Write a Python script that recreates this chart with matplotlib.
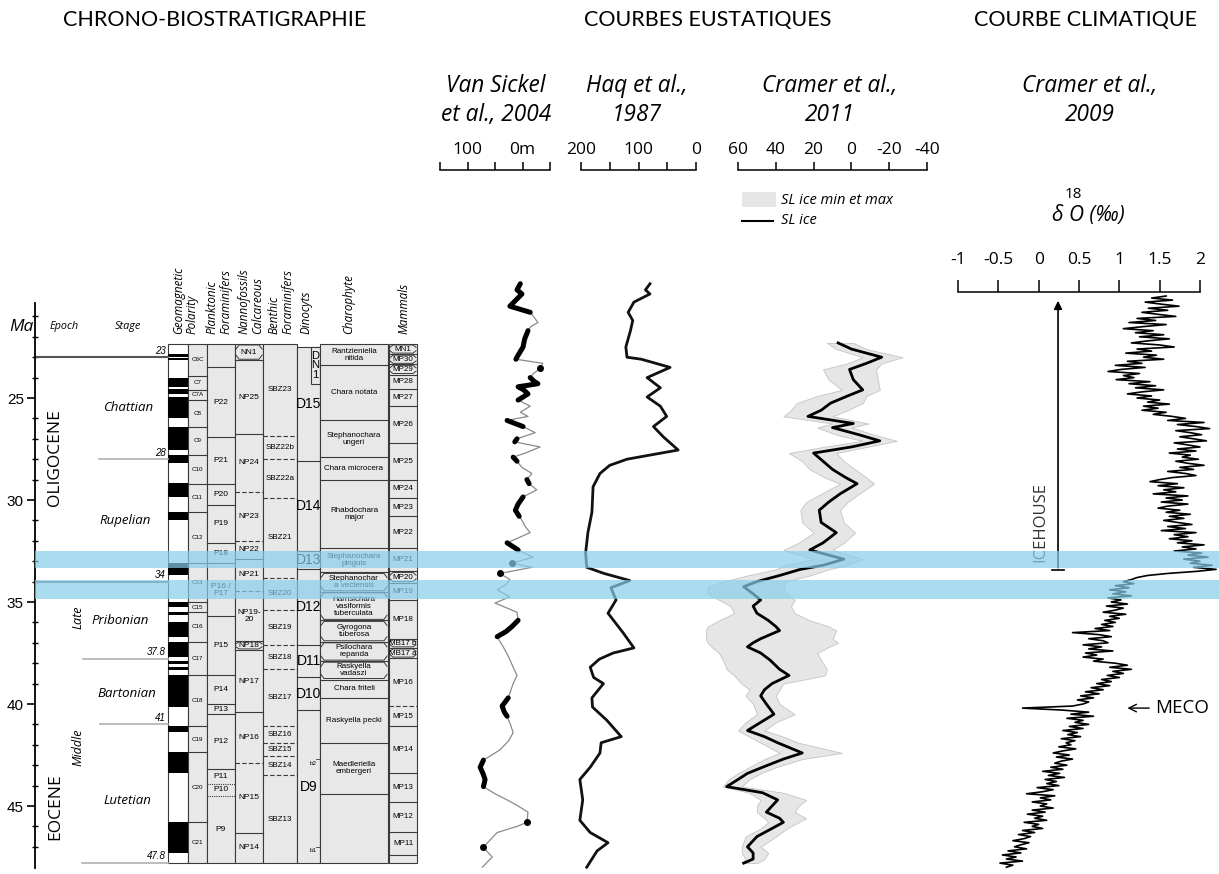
import numpy as np
import matplotlib
matplotlib.use("Agg")
import matplotlib.pyplot as plt
from matplotlib.patches import Rectangle
from matplotlib.lines import Line2D

# ---------------------------------------------------------------- data
bands = [(32.5, 33.35), (33.9, 34.85)]

# polarity: normal (black) intervals, Ma
normal_chrons = [(22.85, 23.0), (23.05, 23.12), (24.0, 24.45), (24.55, 24.8), (24.95, 26.0),
                 (26.4, 27.55), (27.8, 28.2), (29.15, 29.85), (30.6, 31.0), (33.1, 33.7),
                 (35.0, 35.25), (35.5, 35.65), (36.0, 36.7), (36.95, 37.7), (37.9, 38.05),
                 (38.2, 38.35), (38.6, 40.15), (41.1, 41.35), (42.35, 43.4), (45.8, 47.3)]
chron_bounds = [22.35, 23.9, 24.6, 25.1, 26.4, 27.8, 29.2, 30.6, 33.1, 35.0, 35.5, 36.95,
                38.6, 41.1, 42.35, 45.8, 47.8]
chron_names = ["C6C", "C7", "C7A", "C8", "C9", "C10", "C11", "C12", "C13", "C15", "C16",
               "C17", "C18", "C19", "C20", "C21"]

plank_bounds = [22.35, 23.5, 26.9, 29.2, 30.25, 32.1, 33.1, 35.7, 38.6, 40.0, 40.5, 43.2,
                43.9, 44.5, 47.8]
plank_names = ["", "P22", "P21", "P20", "P19", "P18", "P16 /\nP17", "P15", "P14", "P13",
               "P12", "P11", "P10", "P9"]
plank_dotted = {43.9, 44.5}

nanno_bounds = [22.35, 23.15, 26.76, 29.6, 32.0, 32.9, 34.45, 36.9, 37.35, 40.4, 42.9, 46.3, 47.8]
nanno_names = ["NN1", "NP25", "NP24", "NP23", "NP22", "NP21", "NP19-\n20", "NP18", "NP17",
               "NP16", "NP15", "NP14"]
nanno_dashed = {29.6, 32.0, 34.45, 42.9}
nanno_boxed = {"NN1", "NP18"}

benth_bounds = [22.35, 26.86, 28.0, 29.9, 33.8, 35.4, 37.1, 38.3, 41.1, 41.9, 42.55, 43.5, 47.8]
benth_names = ["SBZ23", "SBZ22b", "SBZ22a", "SBZ21", "SBZ20", "SBZ19", "SBZ18", "SBZ17",
               "SBZ16", "SBZ15", "SBZ14", "SBZ13"]

dino_bounds = [22.5, 28.1, 32.5, 33.4, 37.1, 38.7, 40.3, 47.8]
dino_names = ["D15", "D14", "D13", "D12", "D11", "D10", "D9"]

charo_bounds = [22.35, 23.4, 26.1, 27.9, 29.0, 32.35, 33.55, 34.5, 35.9, 36.95, 37.9, 38.8,
                39.7, 41.9, 44.4, 47.8]
charo_names = ["Rantzieniella\nnitida", "Chara notata", "Stephanochara\nungeri",
               "Chara microcera", "Rhabdochara\nmajor", "Stephanochara\npinguis",
               "Stephanochar\na vectensis", "Harrisichara\nvasiformis\ntuberculata",
               "Gyrogona\ntuberosa", "Psilochara\nrepanda", "Raskyella\nvadaszi",
               "Chara friteli", "Raskyella pecki", "Maedleriella\nembergeri", ""]
charo_boxed = {"Stephanochar\na vectensis", "Harrisichara\nvasiformis\ntuberculata",
               "Gyrogona\ntuberosa", "Psilochara\nrepanda", "Raskyella\nvadaszi"}

mamm_bounds = [22.35, 22.85, 23.35, 23.85, 24.55, 25.4, 27.2, 29.0, 29.9, 30.8, 32.35, 33.5,
               34.05, 34.9, 36.8, 37.25, 37.75, 40.1, 41.1, 43.4, 44.8, 46.25, 47.4, 47.8]
mamm_names = ["MN1", "MP30", "MP29", "MP28", "MP27", "MP26", "MP25", "MP24", "MP23", "MP22",
              "MP21", "MP20", "MP19", "MP18", "MB17 b", "MB17 a", "MP16", "MP15", "MP14",
              "MP13", "MP12", "MP11", ""]
mamm_dashed = {40.1}
mamm_boxed = {"MN1", "MP30", "MP29", "MP20", "MB17 b", "MB17 a"}

# Van Sickel et al., 2004 (m)
vs_age = [19.4, 19.7, 19.9, 20.2, 20.5, 20.8, 21.0, 21.3, 21.5, 21.7, 22.1, 22.5, 22.9, 23.1,
          23.3, 23.55, 23.8, 24.0, 24.2, 24.3, 24.45, 24.6, 24.8, 25.0, 25.1, 25.4, 25.7, 25.9,
          26.1, 26.4, 26.7, 27.0, 27.15, 27.4, 27.7, 27.9, 28.1, 28.4, 28.7, 29.0, 29.2, 29.5,
          29.85, 30.2, 30.5, 30.8, 31.0, 31.3, 31.6, 32.1, 32.45, 32.8, 33.1, 33.3, 33.6, 33.9,
          34.15, 34.4, 34.75, 35.05, 35.5, 35.9, 36.2, 36.45, 36.7, 37.2, 37.7, 38.2, 38.6,
          39.0, 39.4, 39.7, 40.1, 40.4, 40.6, 41.0, 41.4, 41.8, 42.25, 42.75, 43.1, 43.4, 43.7,
          44.05, 44.4, 44.7, 45.0, 45.3, 45.8, 46.0, 46.3, 46.7, 47.0, 47.3, 47.5, 48.0]
vs_sl = [4, 10, 1, 12, 23, -14, -20, -28, -15, -10, -4, -1, 8, 12,
         -37, -32, -20, -14, -22, -28, 8, -2, -10, 2, 8, -14, 4, -10,
         28, -1, -23, 10, 14, -32, -5, 17, 10, 1, -17, -8, -12, -26,
         -1, 8, 13, 6, 1, -5, -14, 28, 8, -19, 19, -17, 41, 23,
         30, 46, 23, 50, 10, 8, 19, 30, 46, 35, 25, 17, 10,
         17, 22, 26, 37, 33, 28, 22, 17, 25, 41, 71, 77, 72, 68,
         71, 50, 28, 8, -10, -8, 10, 46, 60, 71, 62, 55, 73]
vs_thick = [(19.4, 20.85), (21.65, 23.1), (23.5, 23.6), (23.95, 25.15), (26.05, 26.45),
            (26.95, 27.2), (27.85, 28.15), (28.95, 29.25), (29.8, 30.85), (31.95, 32.5),
            (33.05, 33.15), (33.55, 33.65), (35.85, 36.75), (39.65, 40.65), (42.7, 44.1),
            (45.75, 45.85), (46.95, 47.05)]

# Haq et al., 1987 (m)
haq_age = [19.4, 19.7, 19.9, 20.3, 20.8, 21.2, 21.7, 22.5, 23.0, 23.1, 23.5, 24.0, 24.5, 24.95,
           25.4, 25.9, 26.4, 26.9, 27.55, 28.0, 28.3, 28.7, 29.35, 30.6, 31.6, 32.6, 33.3, 33.6,
           33.95, 34.3, 34.9, 35.55, 36.5, 37.25, 37.5, 37.8, 38.2, 38.7, 39.0, 39.7, 40.15,
           40.8, 41.6, 41.9, 42.4, 43.1, 43.7, 44.7, 45.7, 46.3, 46.8, 47.2, 48.0]
haq_sl = [80, 88, 80, 108, 118, 110, 114, 122, 120, 95, 45, 85, 62, 85,
          62, 51, 74, 57, 31, 120, 150, 167, 179, 181, 188, 192, 190, 160,
          115, 148, 139, 153, 127, 108, 144, 168, 184, 178, 161, 181, 180,
          155, 130, 165, 167, 184, 202, 197, 202, 184, 153, 172, 190]

# Cramer et al., 2011 (m): SL ice, min/max envelope
cr_age = [22.3, 22.6, 23.0, 23.3, 23.6, 24.1, 24.6, 24.9, 25.25, 25.6, 25.9, 26.25, 26.45,
          26.8, 27.1, 27.4, 27.7, 28.1, 28.5, 28.9, 29.2, 29.7, 30.1, 30.5, 31.1, 31.6, 32.1,
          32.45, 32.9, 33.2, 33.4, 33.7, 34.0, 34.25, 34.6, 34.9, 35.2, 35.55, 35.9, 36.2,
          36.4, 36.8, 37.0, 37.2, 37.5, 37.85, 38.3, 38.6, 39.0, 39.3, 39.6, 40.0, 40.5, 40.9,
          41.3, 41.6, 41.9, 42.4, 42.7, 43.1, 43.4, 43.7, 44.05, 44.35, 44.7, 45.0, 45.3,
          45.6, 45.8, 46.1, 46.5, 47.0, 47.3, 47.6, 47.8]
cr_sl = [7, 0, -16, -8, 1, -1, -6, 2, 11, 16, 23, -1, 10,
         -4, -15, 0, 20, 15, 10, 3, -3, 6, 12, 17, 16, 8, 15,
         22, 4, 15, 27, 38, 50, 57, 52, 48, 52, 50, 44, 40,
         38, 48, 52, 55, 48, 43, 38, 33, 42, 46, 48, 45, 41, 48,
         55, 46, 39, 26, 36, 47, 55, 60, 66, 47, 39, 42, 45,
         38, 36, 42, 50, 55, 52, 52, 57]
cr_hi = [13, 8, -6, 2, 15, 12, 5, 18, 29, 32, 36, 10, 18,
         8, -6, 15, 33, 26, 22, 14, 6, 16, 24, 27, 26, 20, 28,
         36, 20, 35, 40, 55, 68, 76, 76, 70, 64, 62, 70, 76,
         77, 77, 76, 74, 70, 68, 66, 62, 58, 54, 56, 52, 50, 56,
         60, 54, 48, 38, 46, 54, 60, 65, 68, 54, 48, 50, 50,
         46, 44, 48, 56, 58, 58, 56, 58]
cr_lo = [-1, -8, -27, -16, -13, -14, -15, -8, -6, 2, 10, -9, 0,
         -12, -24, -8, 8, 4, -2, -8, -12, -4, 2, 6, 4, -2, 4,
         10, -6, 3, 12, 22, 35, 36, 34, 30, 32, 30, 22, 12,
         8, 10, 7, 12, 18, 16, 13, 14, 36, 38, 40, 38, 30, 40,
         46, 36, 28, 5, 26, 40, 48, 54, 58, 36, 24, 28, 30,
         24, 28, 34, 40, 48, 44, 46, 50]

# Cramer et al., 2009: benthic d18O (permil), one value every 0.1 Ma from 20 to 48 Ma
d18o_age = np.round(np.arange(20.0, 48.001, 0.1), 1)
d18o = [1.58, 1.40, 1.66, 1.32, 1.52, 1.74, 1.36, 1.60, 1.28, 1.48,
        1.70, 1.22, 1.45, 1.12, 1.58, 1.30, 1.05, 1.42, 1.20, 1.55,
        1.25, 1.62, 1.35, 1.15, 1.50, 1.68, 1.22, 1.40, 1.08, 1.46,
        1.30, 1.55, 1.10, 1.28, 0.95, 1.32, 1.02, 0.86, 1.25, 1.05,
        1.18, 0.96, 1.38, 1.12, 1.45, 1.20, 1.55, 1.28, 1.10, 1.40,
        1.22, 1.50, 1.35, 1.62, 1.30, 1.48, 1.28, 1.58, 1.42, 1.65,
        1.82, 1.60, 2.05, 1.72, 1.95, 2.12, 1.70, 1.88, 2.02, 1.75,
        1.92, 2.08, 1.68, 1.85, 2.00, 1.72, 1.95, 1.62, 1.88, 1.78,
        1.98, 1.70, 1.85, 2.05, 1.75, 1.92, 1.60, 1.82, 1.95, 1.66,
        1.50, 1.38, 1.72, 1.48, 1.80, 1.55, 1.70, 1.42, 1.85, 1.58,
        1.78, 1.52, 1.85, 1.60, 1.48, 1.75, 1.58, 1.88, 1.62, 1.80,
        1.55, 1.72, 1.90, 1.60, 1.82, 1.52, 1.95, 1.68, 1.85, 1.62,
        1.90, 1.72, 2.05, 1.78, 1.95, 1.68, 2.02, 1.85, 2.10, 1.80,
        2.00, 1.88, 2.15, 1.92, 2.20, 1.95, 1.60, 1.35, 1.22, 1.15,
        1.05, 1.18, 0.95, 1.12, 0.88, 1.08, 0.92, 1.15, 0.86, 1.02,
        0.90, 1.10, 0.84, 1.05, 0.95, 0.80, 1.08, 0.88, 1.00, 0.82,
        0.95, 0.78, 0.92, 0.70, 0.88, 0.42, 0.75, 0.90, 0.62, 0.80,
        0.86, 0.55, 0.78, 0.62, 0.92, 0.58, 0.72, 0.55, 0.80, 0.68,
        0.95, 1.10, 0.88, 1.15, 0.92, 1.05, 0.85, 1.00, 0.78, 0.90,
        0.72, 0.88, 0.65, 0.80, 0.58, 0.75, 0.52, 0.68, 0.48, 0.62,
        0.55, 0.42, -0.20, 0.30, 0.62, 0.40, 0.68, 0.35, 0.55, 0.45,
        0.62, 0.38, 0.55, 0.30, 0.48, 0.36, 0.52, 0.28, 0.45, 0.34,
        0.40, 0.25, 0.46, 0.30, 0.18, 0.38, 0.22, 0.42, 0.28, 0.20,
        0.35, 0.15, 0.30, 0.05, 0.26, 0.12, 0.32, 0.08, 0.22, 0.10,
        0.25, -0.02, 0.18, 0.05, -0.15, 0.20, 0.02, 0.15, -0.08, 0.10,
        0.02, 0.18, -0.08, 0.08, -0.14, 0.05, -0.05, 0.10, -0.18, 0.00,
        -0.08, 0.05, -0.20, -0.05, -0.25, -0.10, -0.18, -0.32, -0.12, -0.22,
        -0.30, -0.15, -0.38, -0.22, -0.45, -0.28, -0.40, -0.20, -0.48, -0.32,
        -0.40]

# ---------------------------------------------------------------- layout
W, H = 1219, 874
MA25_PX = 398.0
PX_PER_MA = 20.4
GRAY = "#e8e8e8"
EDGE = "#3a3a3a"
BLUE = "#87ceeb"

plt.rcParams["font.family"] = ["Open Sans", "DejaVu Sans"]
HEAD = ["Lato", "DejaVu Sans"]
NARROW = ["Liberation Sans Narrow", "Liberation Sans", "DejaVu Sans"]
ARIAL = ["Liberation Sans", "DejaVu Sans"]


def ma(px):
    return 25 + (px - MA25_PX) / PX_PER_MA


fig = plt.figure(figsize=(W / 100, H / 100), dpi=100)


def panel(x0, x1, y0, y1, zorder=1):
    ax = fig.add_axes([x0 / W, 1 - y1 / H, (x1 - x0) / W, (y1 - y0) / H], zorder=zorder)
    ax.set_ylim(ma(y1), ma(y0))
    ax.patch.set_alpha(0)
    return ax


# section titles
for x, t in [(215, "CHRONO-BIOSTRATIGRAPHIE"), (708, "COURBES EUSTATIQUES"),
             (1086, "COURBE CLIMATIQUE")]:
    fig.text(x / W, 1 - 20 / H, t, ha="center", va="center", fontsize=15.5, family=HEAD)

# ---------------------------------------------------------------- chrono-biostratigraphy
ax = panel(35, 420, 303, 868)
ax.set_xlim(35, 420)
for s in ["top", "right", "bottom"]:
    ax.spines[s].set_visible(False)
ax.spines["left"].set_linewidth(1.3)
ax.set_xticks([])
ax.set_yticks([25, 30, 35, 40, 45])
ax.set_yticks(np.arange(21, 48), minor=True)
ax.tick_params(axis="y", which="major", length=6, width=1.2, pad=2, labelsize=11)
ax.tick_params(axis="y", which="minor", length=5, width=1, direction="inout")
for lab in ax.get_yticklabels():
    lab.set_family(NARROW)

ax.text(9, ma(327), "Ma", fontsize=12.5, style="italic", ha="left", va="center")
ax.text(64, ma(327), "Epoch", fontsize=7.8, style="italic", ha="center", va="center")
ax.text(128, ma(327), "Stage", fontsize=7.8, style="italic", ha="center", va="center")

headers = [(185, "Geomagnetic\nPolarity"), (219, "Planktonic\nForaminifers"),
           (251, "Nannofossils\nCalcareous"), (281, "Benthic\nForaminifers"),
           (306, "Dinocyts"), (349, "Charophyte"), (404, "Mammals")]
for x, t in headers:
    ax.text(x, ma(334), t, rotation=90, ha="center", va="bottom", multialignment="left",
            fontsize=8.4, style="italic", linespacing=1.05)

# epoch / stage
ax.text(55, ma(458), "OLIGOCENE", rotation=90, ha="center", va="center", fontsize=12.5)
ax.text(55, ma(807), "EOCENE", rotation=90, ha="center", va="center", fontsize=12.5)
ax.text(78, ma(617), "Late", rotation=90, ha="center", va="center", fontsize=9, style="italic")
ax.text(78, ma(747), "Middle", rotation=90, ha="center", va="center", fontsize=9,
        style="italic")
for age, t, x in [(25.45, "Chattian", 128), (31.0, "Rupelian", 125), (35.9, "Pribonian", 120),
                  (39.5, "Bartonian", 127), (44.75, "Lutetian", 127)]:
    ax.text(x, age, t, ha="center", va="center", fontsize=9.5, style="italic")

for age, x0, col, lw in [(23, 35, "#555555", 1.5), (34, 35, "#777777", 1.5),
                         (28, 99, "#b0b0b0", 1.2), (37.8, 83, "#b0b0b0", 1.2),
                         (41, 100, "#b0b0b0", 1.2), (47.8, 82, "#b0b0b0", 1.2)]:
    ax.plot([x0, 168], [age, age], color=col, lw=lw)
    ax.text(166, age - 0.08, f"{age:g}", ha="right", va="bottom", fontsize=7,
            style="italic", family=NARROW)

# polarity column
ax.add_patch(Rectangle((168, 22.35), 20, 47.8 - 22.35, fc="white", ec=EDGE, lw=0.8))
for a, b in normal_chrons:
    ax.add_patch(Rectangle((168, a), 20, b - a, fc="black", ec="none"))


def bracket(x0, x1, top, bot):
    d = min(0.25, (bot - top) / 3)
    ax.plot([x0 + 1, x0 + 4, x1 - 4, x1 - 1], [top + d, top + 0.05, top + 0.05, top + d],
            color=EDGE, lw=0.7)
    ax.plot([x0 + 1, x0 + 4, x1 - 4, x1 - 1], [bot - d, bot - 0.05, bot - 0.05, bot - d],
            color=EDGE, lw=0.7)


def zone_column(x0, x1, bounds, names, dashed=(), dotted=(), boxed=(), fs=6.0, fc=GRAY):
    ax.add_patch(Rectangle((x0, bounds[0]), x1 - x0, bounds[-1] - bounds[0], fc=fc, ec=EDGE,
                           lw=0.8))
    for b in bounds[1:-1]:
        ls = (0, (4, 2)) if b in dashed else ((0, (1, 1)) if b in dotted else "-")
        ax.plot([x0, x1], [b, b], color=EDGE, lw=0.8, ls=ls)
    for i, name in enumerate(names):
        top, bot = bounds[i], bounds[i + 1]
        if name in boxed:
            bracket(x0, x1, top, bot)
        ax.text((x0 + x1) / 2, (top + bot) / 2, name, ha="center", va="center", fontsize=fs,
                family=ARIAL, linespacing=1.0)


zone_column(188, 207, chron_bounds, chron_names, fs=4.5)
zone_column(207, 235, plank_bounds, plank_names, dotted=plank_dotted)
zone_column(235, 263, nanno_bounds, nanno_names, dashed=nanno_dashed, boxed=nanno_boxed)
zone_column(263, 297, benth_bounds, benth_names, dashed=set(benth_bounds[1:-1]), fs=5.8)
zone_column(297, 320, dino_bounds, dino_names, fs=10)
ax.add_patch(Rectangle((311, 22.5), 9, 24.3 - 22.5, fc=GRAY, ec=EDGE, lw=0.8))
ax.text(315.5, 23.4, "D\nN\n1", ha="center", va="center", fontsize=8, family=ARIAL,
        linespacing=0.95)
for age, t in [(42.7, "b2"), (47.0, "b1")]:
    ax.plot([316, 320], [age, age], color=EDGE, lw=0.6)
    ax.text(313, age + 0.2, t, ha="center", va="center", fontsize=4.5, family=ARIAL)
zone_column(320, 388, charo_bounds, charo_names, boxed=charo_boxed, fs=5.8)
zone_column(389, 417, mamm_bounds, mamm_names, dashed=mamm_dashed, boxed=mamm_boxed, fs=5.8)

# ---------------------------------------------------------------- sea-level curves


def scale_axis(x0, x1, lims, ticks, labels, y0=170, y1=870, length=6, pad=3):
    a = panel(x0, x1, y0, y1)
    a.set_xlim(*lims)
    for s in ["left", "right", "bottom"]:
        a.spines[s].set_visible(False)
    a.spines["top"].set_linewidth(1.1)
    a.set_yticks([])
    a.xaxis.tick_top()
    a.set_xticks(ticks)
    a.set_xticklabels(labels)
    a.tick_params(axis="x", direction="out", length=length, width=1.1, pad=pad,
                  labelsize=12.5)
    return a


ax_vs = scale_axis(440, 550, (150, -50), [150, 100, 50, 0, -50], ["", "100", "", "0m", ""])
vs_age_a, vs_sl_a = np.array(vs_age), np.array(vs_sl)
ax_vs.plot(vs_sl_a, vs_age_a, color="#8a8a8a", lw=0.9, clip_on=False)
for a, b in vs_thick:
    m = (vs_age_a >= a) & (vs_age_a <= b)
    if m.sum() > 1:
        ax_vs.plot(vs_sl_a[m], vs_age_a[m], color="black", lw=3.6, solid_capstyle="round",
                   clip_on=False)
    else:
        ax_vs.plot(vs_sl_a[m], vs_age_a[m], "o", color="black", ms=4, clip_on=False)

ax_haq = scale_axis(581, 696, (200, 0), [200, 150, 100, 50, 0], ["200", "", "100", "", "0"])
ax_haq.plot(haq_sl, haq_age, color="#111111", lw=2.0, solid_joinstyle="round", clip_on=False)

ax_cr = scale_axis(738, 927, (60, -40), [60, 40, 20, 0, -20, -40],
                   ["60", "40", "20", "0", "-20", "-40"])
ax_cr.fill_betweenx(cr_age, cr_lo, cr_hi, color="#e6e6e6", ec="#c4c4c4", lw=0.6,
                    clip_on=False)
ax_cr.plot(cr_sl, cr_age, color="black", lw=2.0, solid_joinstyle="round", clip_on=False)

# legend
fig.add_artist(Rectangle((742 / W, 1 - 207 / H), 34 / W, 15 / H, transform=fig.transFigure,
                         fc="#e6e6e6", ec="none"))
fig.add_artist(Line2D([742 / W, 773 / W], [1 - 221 / H] * 2, transform=fig.transFigure,
                      color="black", lw=1.5))
fig.text(781 / W, 1 - 200 / H, "SL ice min et max", style="italic", fontsize=10.5, va="center")
fig.text(781 / W, 1 - 221 / H, "SL ice", style="italic", fontsize=10.5, va="center")

# curve titles
for x, l1, l2 in [(496, "Van Sickel", "et al., 2004"), (637, "Haq et al.,", "1987"),
                  (830, "Cramer et al.,", "2011"), (1090, "Cramer et al.,", "2009")]:
    fig.text(x / W, 1 - 86 / H, l1, ha="center", va="center", fontsize=16.3, style="italic")
    fig.text(x / W, 1 - 115 / H, l2, ha="center", va="center", fontsize=16.3, style="italic")

# ---------------------------------------------------------------- climate curve
ax_o = scale_axis(958, 1200, (-1, 2), [-1, -0.5, 0, 0.5, 1, 1.5, 2],
                  ["-1", "-0.5", "0", "0.5", "1", "1.5", "2"], y0=292, length=9, pad=8)
ax_o.plot(d18o, d18o_age, color="black", lw=1.2, clip_on=False)
fig.text(1088 / W, 1 - 215 / H, "δ O (‰)", ha="center", va="center", fontsize=15,
         style="italic")
fig.text(1073 / W, 1 - 194 / H, "18", ha="center", va="center", fontsize=11)

ax_o.annotate("", xy=(0.24, ma(298)), xytext=(0.24, 33.45),
              arrowprops=dict(arrowstyle="-|>", color="black", lw=1.2, mutation_scale=12))
ax_o.plot([0.165, 0.315], [33.45, 33.45], color="black", lw=1.2)
ax_o.text(0.02, ma(522), "ICEHOUSE", rotation=90, ha="center", va="center", fontsize=12,
          color="#333333")
ax_o.annotate("MECO", xy=(1.1, 40.2), xytext=(1.44, 40.2), va="center", fontsize=13.5,
              arrowprops=dict(arrowstyle="->", color="black", lw=1.0, shrinkA=2, shrinkB=0))

# ---------------------------------------------------------------- blue bands on top
ax_b = panel(35, 1219, 0, 874, zorder=10)
ax_b.set_axis_off()
for a, b in bands:
    ax_b.axhspan(a, b, color=BLUE, alpha=0.7, lw=0)

fig.savefig("out.png", dpi=100)
